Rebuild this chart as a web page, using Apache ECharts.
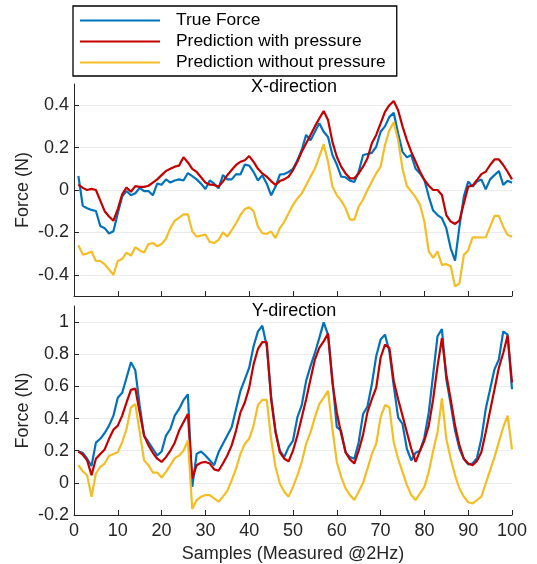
<!DOCTYPE html>
<html><head><meta charset="utf-8">
<script src="https://cdn.jsdelivr.net/npm/echarts@6/dist/echarts.min.js"></script>
<style>html,body{margin:0;padding:0;background:#fff}#c{width:537px;height:564px}</style>
</head><body><div id="c"></div>
<script>
const samples = Array.from({length:100},(_, k)=>k+1);
const seriesNames = ['True Force','Prediction with pressure','Prediction without pressure'];
const xTickLabels = [0,10,20,30,40,50,60,70,80,90,100];
const topTicks = [-0.4,-0.2,0,0.2,0.4];
const botTicks = [-0.2,0,0.2,0.4,0.6,0.8,1];

const xTrue = [0.066,-0.075,-0.086,-0.094,-0.099,-0.17,-0.18,-0.205,-0.195,-0.11,-0.03,-0.005,-0.025,-0.015,0.01,-0.005,-0.005,-0.025,0.03,0.025,0.05,0.035,0.045,0.05,0.045,0.08,0.065,0.05,0.03,0.005,0.045,0.03,0.008,0.07,0.05,0.05,0.075,0.073,0.12,0.115,0.085,0.045,0.07,0.03,-0.025,0.015,0.073,0.075,0.085,0.1,0.14,0.19,0.26,0.235,0.275,0.315,0.275,0.25,0.165,0.12,0.063,0.06,0.044,0.038,0.086,0.165,0.17,0.175,0.204,0.275,0.3,0.345,0.364,0.267,0.18,0.154,0.165,0.1,0.078,0.047,-0.031,-0.097,-0.118,-0.133,-0.18,-0.275,-0.333,-0.173,-0.031,0.04,0.016,0.04,0.05,0.003,0.05,0.07,0.09,0.024,0.044,0.034];
const xWith = [0.025,0.01,0.0,0.005,0.0,-0.05,-0.1,-0.125,-0.145,-0.09,-0.02,0.012,-0.008,0.018,0.015,0.015,0.02,0.035,0.05,0.07,0.09,0.1,0.11,0.115,0.155,0.13,0.1,0.085,0.06,0.035,0.025,0.024,0.016,0.04,0.07,0.094,0.118,0.133,0.14,0.16,0.133,0.1,0.078,0.063,0.042,0.024,0.042,0.05,0.063,0.094,0.133,0.18,0.22,0.26,0.3,0.337,0.373,0.33,0.227,0.157,0.11,0.078,0.055,0.055,0.078,0.11,0.15,0.22,0.26,0.314,0.369,0.4,0.42,0.376,0.3,0.235,0.18,0.133,0.086,0.047,0.02,0.0,0.0,-0.024,-0.118,-0.149,-0.16,-0.144,-0.063,0.016,0.02,0.047,0.075,0.086,0.118,0.144,0.144,0.118,0.086,0.05];
const xWithout = [-0.26,-0.305,-0.3,-0.29,-0.335,-0.335,-0.35,-0.375,-0.4,-0.335,-0.325,-0.295,-0.31,-0.27,-0.285,-0.295,-0.255,-0.25,-0.265,-0.255,-0.23,-0.18,-0.145,-0.13,-0.115,-0.115,-0.195,-0.22,-0.215,-0.21,-0.245,-0.25,-0.235,-0.2,-0.22,-0.19,-0.157,-0.118,-0.09,-0.082,-0.1,-0.173,-0.204,-0.207,-0.196,-0.227,-0.18,-0.15,-0.11,-0.07,-0.04,-0.016,0.024,0.063,0.1,0.157,0.216,0.133,0.016,-0.024,-0.05,-0.086,-0.14,-0.14,-0.078,-0.045,0.0,0.04,0.078,0.11,0.212,0.282,0.32,0.235,0.1,0.019,-0.008,-0.035,-0.07,-0.15,-0.29,-0.32,-0.29,-0.353,-0.35,-0.36,-0.455,-0.44,-0.306,-0.285,-0.223,-0.223,-0.224,-0.223,-0.173,-0.122,-0.122,-0.173,-0.212,-0.22];

const yTrue = [0.195,0.187,0.15,0.105,0.25,0.274,0.31,0.356,0.418,0.53,0.56,0.654,0.75,0.7,0.48,0.294,0.253,0.212,0.17,0.195,0.294,0.335,0.418,0.46,0.514,0.55,-0.025,0.18,0.195,0.17,0.14,0.11,0.19,0.243,0.294,0.346,0.459,0.572,0.644,0.716,0.85,0.942,0.977,0.85,0.54,0.325,0.2,0.16,0.222,0.263,0.407,0.484,0.634,0.726,0.808,0.9,0.998,0.922,0.644,0.346,0.325,0.19,0.16,0.15,0.253,0.428,0.475,0.613,0.788,0.891,0.922,0.819,0.603,0.407,0.366,0.212,0.14,0.187,0.2,0.282,0.438,0.675,0.912,0.957,0.644,0.49,0.325,0.212,0.15,0.115,0.12,0.154,0.274,0.459,0.582,0.706,0.767,0.942,0.922,0.582];
const yWith = [0.195,0.175,0.14,0.047,0.15,0.18,0.208,0.274,0.33,0.356,0.418,0.5,0.578,0.586,0.438,0.294,0.233,0.187,0.15,0.13,0.16,0.2,0.25,0.325,0.377,0.428,0.027,0.11,0.125,0.13,0.12,0.084,0.075,0.12,0.17,0.233,0.325,0.438,0.5,0.592,0.737,0.833,0.875,0.875,0.52,0.315,0.19,0.15,0.134,0.2,0.294,0.407,0.52,0.644,0.767,0.84,0.88,0.928,0.623,0.438,0.305,0.19,0.146,0.12,0.2,0.3,0.44,0.52,0.592,0.778,0.86,0.84,0.634,0.52,0.418,0.315,0.212,0.13,0.2,0.263,0.356,0.52,0.726,0.9,0.675,0.52,0.356,0.233,0.15,0.12,0.11,0.136,0.19,0.315,0.449,0.582,0.716,0.808,0.916,0.623];
const yWithout = [0.11,0.072,0.047,-0.086,0.058,0.1,0.12,0.167,0.18,0.19,0.253,0.335,0.47,0.49,0.315,0.14,0.11,0.064,0.064,0.033,0.068,0.11,0.154,0.17,0.2,0.263,-0.163,-0.107,-0.086,-0.076,-0.076,-0.097,-0.117,-0.086,-0.05,0.016,0.088,0.18,0.243,0.274,0.356,0.484,0.516,0.516,0.274,0.1,-0.004,-0.055,-0.086,-0.025,0.047,0.13,0.243,0.315,0.407,0.49,0.53,0.572,0.335,0.13,0.037,-0.035,-0.076,-0.107,-0.055,0.0,0.088,0.18,0.243,0.407,0.484,0.47,0.253,0.15,0.068,-0.014,-0.076,-0.107,-0.066,-0.025,0.068,0.2,0.315,0.525,0.274,0.15,0.047,-0.035,-0.086,-0.121,-0.128,-0.107,-0.086,-0.004,0.078,0.16,0.253,0.346,0.418,0.208];

const colors = ['#0072BD','#C40000','#F4BD26'];
const FONT = "'Liberation Sans', Arial, Helvetica, sans-serif";
const TXT = '#262626';
const pair = arr => samples.map((s, k) => [s, arr[k]]);

function xAxisDef(idx, showLabels) {
  return {
    type: 'value', gridIndex: idx, min: 0, max: 100, interval: 10,
    axisLine: {show: true, onZero: false, lineStyle: {color: TXT, width: 1}},
    axisTick: {show: true, inside: true, length: 5, lineStyle: {color: TXT}},
    axisLabel: {show: showLabels, color: TXT, fontSize: 18, fontFamily: FONT, margin: 7,
      customValues: xTickLabels},
    splitLine: {show: false},
    name: showLabels ? 'Samples (Measured @2Hz)' : '',
    nameLocation: 'middle', nameGap: 30, nameMoveOverlap: false,
    nameTextStyle: {color: TXT, fontSize: 18, fontFamily: FONT}
  };
}
function yAxisDef(idx, min, max, ticks) {
  return {
    type: 'value', gridIndex: idx, min: min, max: max,
    axisLine: {show: true, onZero: false, lineStyle: {color: TXT, width: 1}},
    axisTick: {show: true, inside: true, length: 5, lineStyle: {color: TXT}, customValues: ticks},
    axisLabel: {color: TXT, fontSize: 18, fontFamily: FONT, margin: 5, customValues: ticks},
    splitLine: {show: true, lineStyle: {color: '#EBEBEB', width: 1}},
    name: 'Force (N)', nameLocation: 'middle', nameGap: 42, nameMoveOverlap: false,
    nameTextStyle: {color: TXT, fontSize: 18, fontFamily: FONT}
  };
}
function line(name, data, xi, yi, c) {
  return {name, type: 'line', xAxisIndex: xi, yAxisIndex: yi, data: pair(data),
    symbol: 'none', showSymbol: false, animation: false,
    lineStyle: {color: c, width: 2.2}, itemStyle: {color: c}};
}

const chart = echarts.init(document.getElementById('c'), null, {renderer: 'canvas'});
chart.setOption({
  animation: false,
  backgroundColor: '#fff',
  title: [
    {text: 'X-direction', left: 294, top: 78, textAlign: 'center', padding: 0,
     textStyle: {color: '#000', fontSize: 18, fontWeight: 'normal', fontFamily: FONT}},
    {text: 'Y-direction', left: 294, top: 302, textAlign: 'center', padding: 0,
     textStyle: {color: '#000', fontSize: 18, fontWeight: 'normal', fontFamily: FONT}}
  ],
  legend: {
    data: seriesNames, orient: 'vertical', left: 73, top: 6,
    itemWidth: 80, itemHeight: 14, itemGap: 4,
    padding: [6, 11, 5, 7],
    borderColor: '#000', borderWidth: 1.3,
    icon: 'path://M0,6 L80,6 L80,8.2 L0,8.2 Z',
    textStyle: {color: '#000', fontSize: 17.4, lineHeight: 15, fontFamily: FONT, padding: [0, 0, 0, 11]}
  },
  grid: [
    {left: 74, right: 25, top: 84, height: 212, containLabel: false},
    {left: 74, right: 25, top: 306, height: 211, containLabel: false}
  ],
  xAxis: [xAxisDef(0, false), xAxisDef(1, true)],
  yAxis: [yAxisDef(0, -0.5, 0.5, topTicks), yAxisDef(1, -0.2, 1.1, botTicks)],
  series: [
    line(seriesNames[0], xTrue, 0, 0, colors[0]),
    line(seriesNames[1], xWith, 0, 0, colors[1]),
    line(seriesNames[2], xWithout, 0, 0, colors[2]),
    line(seriesNames[0], yTrue, 1, 1, colors[0]),
    line(seriesNames[1], yWith, 1, 1, colors[1]),
    line(seriesNames[2], yWithout, 1, 1, colors[2])
  ]
});
</script></body></html>
